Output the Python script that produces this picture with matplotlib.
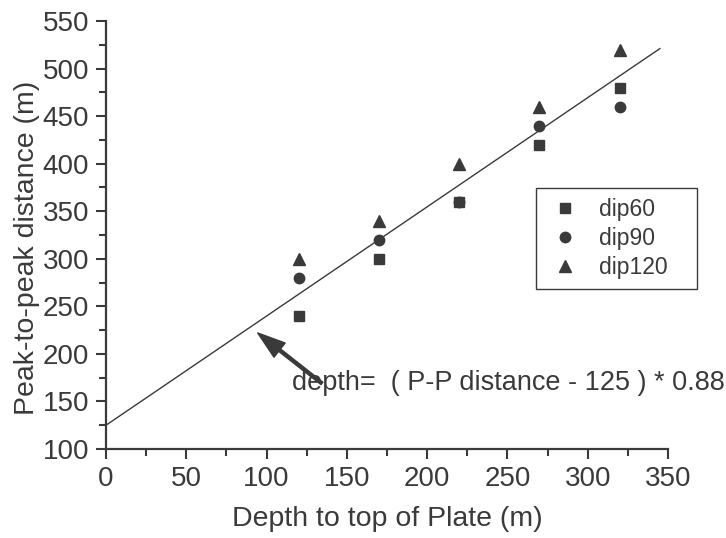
import numpy as np
import matplotlib
matplotlib.use("Agg")
import matplotlib.pyplot as plt
from matplotlib.ticker import MultipleLocator

plt.rcParams['font.family'] = ['Liberation Sans', 'DejaVu Sans']

# depth to top of plate (m)
depth = [120, 170, 220, 270, 320]
# peak-to-peak distance (m) for each dip
dip60 = [240, 300, 360, 420, 480]
dip90 = [280, 320, 360, 440, 460]
dip120 = [300, 340, 400, 460, 520]

# fit line endpoints
fit_x = [0, 345]
fit_y = [125, 521]

ink = '#3a3a3a'

fig = plt.figure(figsize=(7.26, 5.38), dpi=100)
ax = fig.add_axes([0.146, 0.1654, 0.774, 0.7956])

ax.plot(fit_x, fit_y, color=ink, lw=1.0)
ax.plot(depth, dip60, 's', color=ink, ms=7, label='dip60   ')
ax.plot(depth, dip90, 'o', color=ink, ms=7.5, label='dip90   ')
ax.plot(depth, dip120, '^', color=ink, ms=8, label='dip120   ')

ax.annotate('', xy=(94.5, 222), xytext=(134.5, 169),
            arrowprops=dict(facecolor=ink, edgecolor=ink, width=2.2,
                            headwidth=13, headlength=20))
ax.text(116, 169, 'depth=  ( P-P distance - 125 ) * 0.88', fontsize=19.5,
        color=ink, va='center', ha='left', clip_on=False)

ax.set_xlim(0, 350)
ax.set_ylim(100, 550)
ax.xaxis.set_major_locator(MultipleLocator(50))
ax.xaxis.set_minor_locator(MultipleLocator(25))
ax.yaxis.set_major_locator(MultipleLocator(50))
ax.yaxis.set_minor_locator(MultipleLocator(25))

for s in ['top', 'right']:
    ax.spines[s].set_visible(False)
for s in ['left', 'bottom']:
    ax.spines[s].set_linewidth(1.6)
    ax.spines[s].set_color(ink)

ax.tick_params(which='major', length=7, width=1.5, color=ink,
               labelsize=20, labelcolor=ink, pad=5)
ax.tick_params(which='minor', length=5, width=1.5, color=ink)

ax.set_xlabel('Depth to top of Plate (m)', fontsize=20.5, color=ink)
ax.set_ylabel('Peak-to-peak distance (m)', fontsize=20.5, color=ink)
ax.xaxis.set_label_coords(0.5, -0.133)
ax.yaxis.set_label_coords(-0.117, 0.47)

leg = ax.legend(loc='upper right', bbox_to_anchor=(0.96, 0.651),
                bbox_transform=fig.transFigure, borderaxespad=0,
                fancybox=False, fontsize=16.5, labelspacing=0.25,
                borderpad=0.45, handletextpad=0.7, handlelength=1.6,
                framealpha=1)
leg.get_frame().set_edgecolor(ink)
leg.get_frame().set_linewidth(1.0)
for t in leg.get_texts():
    t.set_color(ink)

fig.savefig('out.png', dpi=100)
